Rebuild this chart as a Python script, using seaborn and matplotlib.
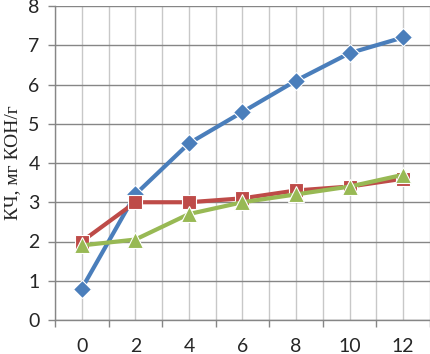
import matplotlib
matplotlib.use("Agg")
import matplotlib.pyplot as plt
import seaborn as sns
import pandas as pd
from matplotlib.ticker import FixedLocator

x_vals = [0, 2, 4, 6, 8, 10, 12]
blue_vals = [0.8, 3.2, 4.5, 5.3, 6.1, 6.8, 7.2]
red_vals = [2.0, 3.0, 3.0, 3.1, 3.3, 3.4, 3.6]
green_vals = [1.9, 2.05, 2.7, 3.0, 3.2, 3.4, 3.7]
series_names = ["s1", "s2", "s3"]
y_label = "КЧ, мг КОН/г"

df = pd.concat([
    pd.DataFrame({"x": x_vals, "y": v, "series": n})
    for n, v in zip(series_names, [blue_vals, red_vals, green_vals])
])

sns.set_style("white")
fig = plt.figure(figsize=(4.31, 3.54), dpi=100)
ax = fig.add_axes([55/431, 34/354, 375/431, 314/354])

palette = {"s1": "#4a7ebb", "s2": "#be4b48", "s3": "#98b954"}
markers = {"s1": "D", "s2": "s", "s3": "^"}
sns.lineplot(data=df, x="x", y="y", hue="series", style="series",
             palette=palette, markers=markers, dashes=False, ax=ax,
             linewidth=3.0, markersize=9, markeredgewidth=0.8,
             legend=False, zorder=3)
for line, ms in zip(ax.lines, [9, 10.5, 11]):
    line.set_markersize(ms)

ax.set_xlim(-1, 13)
ax.set_ylim(0, 8)
ax.set_xticks(x_vals)
ax.xaxis.set_minor_locator(FixedLocator([-1, 1, 3, 5, 7, 9, 11, 13]))
ax.set_yticks(range(0, 9))
ax.tick_params(axis="x", which="major", length=0, pad=13, labelsize=14)
ax.tick_params(axis="x", which="minor", length=5, width=1, color="#868686", direction="out", bottom=True)
ax.tick_params(axis="y", which="major", length=5, width=1, color="#868686", direction="out", left=True, labelsize=14, pad=6)
for lab in ax.get_xticklabels() + ax.get_yticklabels():
    lab.set_fontfamily(["Lato", "DejaVu Sans"])

ax.grid(True, axis="x", which="both", color="#c8c8c8", linewidth=1)
ax.grid(True, axis="y", which="major", color="#868686", linewidth=1)
ax.set_axisbelow(True)

for s in ["top", "right"]:
    ax.spines[s].set_visible(False)
for s in ["left", "bottom"]:
    ax.spines[s].set_color("#868686")
    ax.spines[s].set_linewidth(1)

ax.set_xlabel("")
ax.set_ylabel(y_label, fontfamily="Liberation Serif", fontsize=14, labelpad=5)

fig.savefig("out.png", dpi=100)
